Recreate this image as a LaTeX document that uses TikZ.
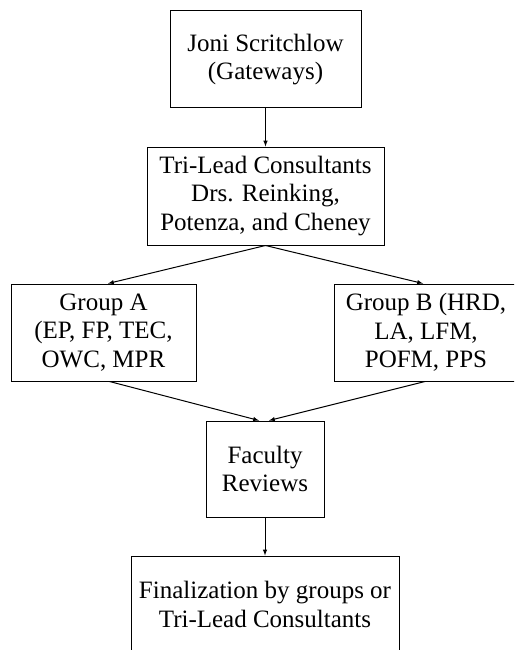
\documentclass[tikz,border=0pt]{standalone}
\usepackage{fontspec}
\setmainfont{Liberation Serif}
\usepackage{tikz}

\begin{document}
\begin{tikzpicture}[x=1pt, y=-1pt, >=latex, line width=1pt,
	box/.style={rectangle, draw, inner sep=0pt, align=center, font=\fontsize{25}{28.5}\selectfont}]
\useasboundingbox (0,0) rectangle (514,650);
\clip (0,0) rectangle (514,650);
\node (joni) at (265.5,59.5) [box, minimum width=191, minimum height=97] {Joni Scritchlow\\(Gateways)};
	\node (tri) at (265.5,196) [box, minimum width=237, minimum height=98] {Tri-Lead Consultants\\Drs. Reinking,\\Potenza, and Cheney} 	edge[<-] (joni);
		\node (grpA) at (103.5,332.5) [box, minimum width=185, minimum height=97] {Group A\\(EP, FP, TEC,\\OWC, MPR};
		\node (grpB) at (426,332.5) [box, minimum width=184, minimum height=97] {Group B (HRD,\\LA, LFM,\\POFM, PPS};
	\node (fac) at (265,469) [box, minimum width=118, minimum height=96] {Faculty\\Reviews};
\node (final) at (265,604.5) [box, minimum width=268, minimum height=97] {Finalization by groups or\\Tri-Lead Consultants} 	edge[<-] (fac);
\draw[->] (tri.south) -- ([xshift=4.5]grpA.north);
\draw[->] (tri.south) -- ([xshift=-3]grpB.north);
\draw[->] ([xshift=6]grpA.south) -- ([xshift=-6]fac.north);
\draw[->] ([xshift=-1]grpB.south) -- ([xshift=4]fac.north);
\end{tikzpicture}
\end{document}
